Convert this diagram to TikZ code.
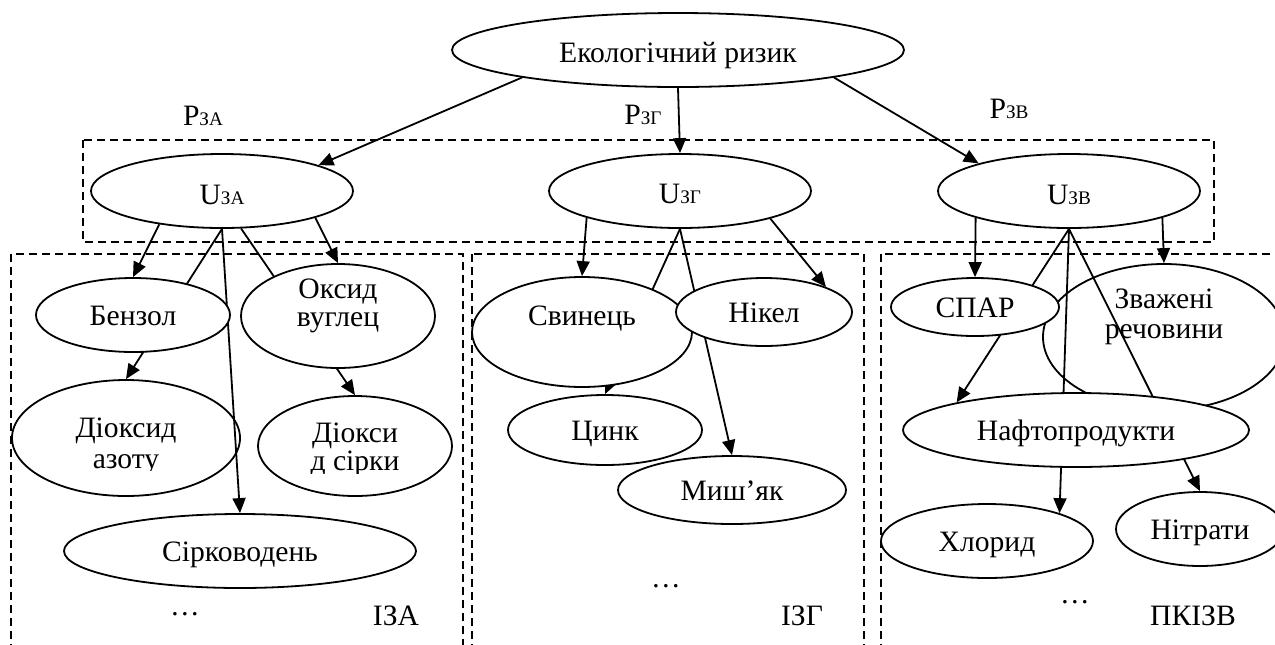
\documentclass[tikz,border=0pt]{standalone}
\usepackage{fontspec}
\setmainfont{Liberation Serif}
\usetikzlibrary{shapes.geometric,arrows.meta}
\pgfdeclarelayer{lower}
\pgfdeclarelayer{edges}
\pgfsetlayers{lower,edges,main}
\newcommand\subtag[1]{{\fontsize{9.6}{10}\selectfont #1}}
\begin{document}
\begin{tikzpicture}[x=0.5pt,y=-0.5pt,
  font=\fontsize{14.8}{16.5}\selectfont,
  oval/.style 2 args={ellipse,draw,fill=white,line width=0.9pt,inner sep=0pt,
    minimum width=#1*0.5pt,minimum height=#2*0.5pt,align=center,
    text height=10pt,text depth=0pt},
  arr/.style={-{Triangle[length=7.5pt,width=6.5pt]},line width=0.9pt},
  zone/.style={dash pattern=on 4pt off 2.5pt,line width=0.7pt},
  lbl/.style={inner sep=0pt,anchor=base}]

\useasboundingbox (0,0) rectangle (1275,644);

% dashed zones and the shapes that lie beneath the connectors
\begin{pgfonlayer}{lower}
  \draw[zone] (83,140) rectangle (1214,242);
  \draw[zone] (11,254) rectangle (463,660);
  \draw[zone] (472,254) rectangle (864,660);
  \draw[zone] (881,254) rectangle (1300,660);
  \node[oval={228}{116}] (diox) at (126,438) {};
  \node[oval={242}{146},text depth=8.5pt] (zvaz) at (1164,337) {Зважені\\[-1.5pt]речовини};
\end{pgfonlayer}

% root and the three environment nodes
\node[oval={452}{74},text height=12pt] (eco) at (678,50) {Екологічний ризик};
\node[oval={262}{74},text height=13pt] (uza) at (222,191) {U\subtag{ЗА}};
\node[oval={262}{74},text height=12pt] (uzg) at (680,191) {U\subtag{ЗГ}};
\node[oval={262}{74},text height=13pt] (uzv) at (1069,191) {U\subtag{ЗВ}};

\node[lbl] (pza) at (203,125) {P\subtag{ЗА}};
\node[lbl] (pzg) at (643,124) {P\subtag{ЗГ}};
\node[lbl] (pzv) at (1009,118) {P\subtag{ЗВ}};

% air pollutants
\node[oval={194}{74}] (benz) at (133,315) {Бензол};
\node[oval={194}{104}] (oks) at (338,316) {Оксид\\[-2.5pt]вуглец};
\node[oval={194}{100}] (diok) at (355,446) {};
\node[oval={352}{74}] (sirk) at (240,551) {Сірководень};
\begin{scope}
  \clip (0,0) rectangle (250,470);
  \node[lbl] (dioxt1) at (126,437) {Діоксид};
  \node[lbl] (dioxt2) at (126,468) {азоту};
\end{scope}
\begin{scope}
  \clip (250,0) rectangle (460,473);
  \node[lbl] (diokt1) at (355,442) {Діокси};
  \node[lbl] (diokt2) at (355,470) {д сірки};
\end{scope}
\node[lbl] (dotsa) at (185,615) {…};
\node[lbl] (iza) at (396,625) {ІЗА};

% soil pollutants
\node[oval={220}{110},text depth=17pt] (svin) at (582,332) {Свинець};
\node[oval={176}{68}] (nik) at (764,312) {Нікел};
\node[oval={194}{70}] (zinc) at (605,430) {Цинк};
\node[oval={228}{68}] (mysh) at (732,490) {Миш’як};
\node[lbl] (dotsg) at (666,587) {…};
\node[lbl] (izg) at (802,625) {ІЗГ};

% surface water pollutants
\node[oval={168}{58}] (spar) at (975,307) {СПАР};
\node[oval={346}{74}] (naft) at (1076,430) {Нафтопродукти};
\node[oval={212}{74}] (hlor) at (987,541) {Хлорид};
\node[oval={168}{74}] (nitr) at (1200,529) {Нітрати};
\node[lbl] (dotsv) at (1075,603) {…};
\node[lbl] (pkizv) at (1193,625) {ПКІЗВ};

% connectors
\begin{pgfonlayer}{edges}
  \draw[arr] (eco.190) -- (uza.15);
  \draw[arr] (eco.south) -- (uzg.north);
  \draw[arr] (eco.350) -- (uzv.163);

  \draw[arr] (uza.208) -- (benz.north);
  \draw[arr] (uza.south) -- (diox.north);
  \draw[arr] (uza.south) -- (sirk.north);
  \draw[arr] (uza.297) -- (diok.north);
  \draw[arr] (uza.344) -- (oks.north);

  \draw[arr] (uzg.196) -- (svin.north);
  \draw[arr] (uzg.south) -- (zinc.north);
  \draw[arr] (uzg.south) -- (mysh.north);
  \draw[arr] (uzg.343) -- (nik.22);

  \draw[arr] (uzv.196) -- (spar.north);
  \draw[arr] (uzv.south) -- (naft.167);
  \draw[arr] (uzv.south) -- (hlor.21);
  \draw[arr] (uzv.south) -- (nitr.north);
  \draw[arr] (uzv.344) -- (zvaz.north);
\end{pgfonlayer}
\end{tikzpicture}
\end{document}
